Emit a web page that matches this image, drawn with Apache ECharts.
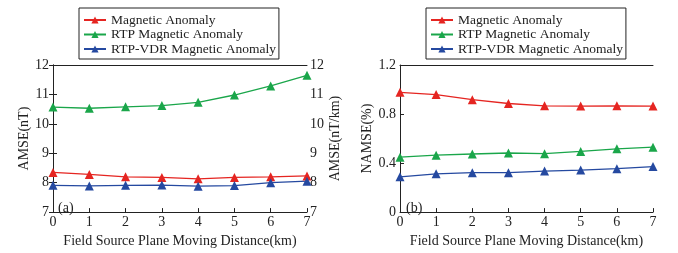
<!DOCTYPE html>
<html><head><meta charset="utf-8">
<script src="https://cdn.jsdelivr.net/npm/echarts@6/dist/echarts.min.js"></script>
<style>html,body{margin:0;padding:0;background:#fff}#c{width:678px;height:253px}</style>
</head><body><div id="c"></div>
<script>
var distances = [0, 1, 2, 3, 4, 5, 6, 7];
var seriesNames = ['Magnetic Anomaly', 'RTP Magnetic Anomaly', 'RTP-VDR Magnetic Anomaly'];
var amseMag = [8.35, 8.28, 8.20, 8.18, 8.13, 8.18, 8.20, 8.23];
var amseRTP = [10.57, 10.53, 10.58, 10.62, 10.73, 10.98, 11.29, 11.65];
var amseVDR = [7.91, 7.89, 7.91, 7.92, 7.88, 7.90, 8.00, 8.05];
var namseMag = [0.977, 0.959, 0.917, 0.886, 0.867, 0.865, 0.867, 0.865];
var namseRTP = [0.448, 0.464, 0.474, 0.482, 0.477, 0.495, 0.516, 0.53];
var namseVDR = [0.288, 0.312, 0.322, 0.322, 0.335, 0.343, 0.354, 0.371];
var colors = ['#e52521', '#1aa64a', '#2549a0'];

var font = 'Liberation Serif';
function pairs(vals){ return distances.map(function(d,i){ return [d, vals[i]]; }); }
function mk(name, vals, xi, yi, ci){
  return {name: name, type: 'line', xAxisIndex: xi, yAxisIndex: yi, data: pairs(vals),
    symbol: 'triangle', symbolSize: 9, itemStyle: {color: colors[ci]},
    lineStyle: {color: colors[ci], width: 1.3}, animation: false};
}
var axisTxt = {color: '#222', fontFamily: font, fontSize: 14};
function xAx(gi, bottom){
  return {type: 'value', gridIndex: gi, min: 0, max: 7, interval: 1, position: bottom ? 'bottom' : 'top',
    axisLine: {show: true, lineStyle: {color: '#222', width: 1}},
    axisTick: {show: bottom, inside: true, length: 4, lineStyle: {color: '#222'}},
    axisLabel: bottom ? Object.assign({margin: 3}, axisTxt) : {show: false},
    splitLine: {show: false},
    name: bottom ? 'Field Source Plane Moving Distance(km)' : '', nameLocation: 'middle', nameGap: 18,
    nameTextStyle: {color: '#222', fontFamily: font, fontSize: 14}};
}
var legendText = {color: '#222', fontFamily: font, fontSize: 13.5};
var legendBase = {orient: 'vertical', top: 8, itemWidth: 22, itemHeight: 9, itemGap: 0.5,
  borderColor: '#222', borderWidth: 1, padding: [5, 3, 3, 4], textStyle: legendText,
  data: seriesNames.slice()};

var option = {
  animation: false,
  legend: [Object.assign({left: 79}, legendBase), Object.assign({left: 426}, legendBase)],
  grid: [
    {left: 53, width: 254, top: 65, height: 153},
    {left: 400, width: 253, top: 65, height: 153}
  ],
  xAxis: [xAx(0, true), xAx(0, false), xAx(1, true), xAx(1, false)],
  yAxis: [
    {type: 'value', gridIndex: 0, min: 7, max: 12, interval: 1, position: 'left',
      axisLine: {show: true, lineStyle: {color: '#222'}}, axisTick: {inside: true, length: 4, lineStyle: {color: '#222'}},
      axisLabel: Object.assign({margin: 4}, axisTxt), splitLine: {show: false},
      name: 'AMSE(nT)', nameLocation: 'middle', nameGap: 13, nameTextStyle: {color: '#222', fontFamily: font, fontSize: 14}},
    {type: 'value', gridIndex: 0, min: 7, max: 12, interval: 1, position: 'right',
      axisLine: {show: true, lineStyle: {color: '#222'}}, axisTick: {inside: true, length: 4, lineStyle: {color: '#222'}},
      axisLabel: Object.assign({margin: 3}, axisTxt), splitLine: {show: false},
      name: 'AMSE(nT/km)', nameLocation: 'middle', nameGap: 21, nameRotate: 90, nameTextStyle: {color: '#222', fontFamily: font, fontSize: 14}},
    {type: 'value', gridIndex: 1, min: 0, max: 1.2, interval: 0.4, position: 'left',
      axisLine: {show: true, lineStyle: {color: '#222'}}, axisTick: {inside: true, length: 4, lineStyle: {color: '#222'}},
      axisLabel: Object.assign({margin: 4}, axisTxt), splitLine: {show: false},
      name: 'NAMSE(%)', nameLocation: 'middle', nameGap: 23, nameTextStyle: {color: '#222', fontFamily: font, fontSize: 14}}
  ],
  graphic: [
    {type: 'text', left: 58, top: 201, style: {text: '(a)', font: '14px "Liberation Serif"', fill: '#222'}},
    {type: 'text', left: 406, top: 201, style: {text: '(b)', font: '14px "Liberation Serif"', fill: '#222'}}
  ],
  series: [
    mk(seriesNames[0], amseMag, 0, 0, 0),
    mk(seriesNames[1], amseRTP, 0, 0, 1),
    mk(seriesNames[2], amseVDR, 0, 0, 2),
    mk(seriesNames[0], namseMag, 2, 2, 0),
    mk(seriesNames[1], namseRTP, 2, 2, 1),
    mk(seriesNames[2], namseVDR, 2, 2, 2)
  ]
};
var chart = echarts.init(document.getElementById('c'));
chart.setOption(option);
</script></body></html>
